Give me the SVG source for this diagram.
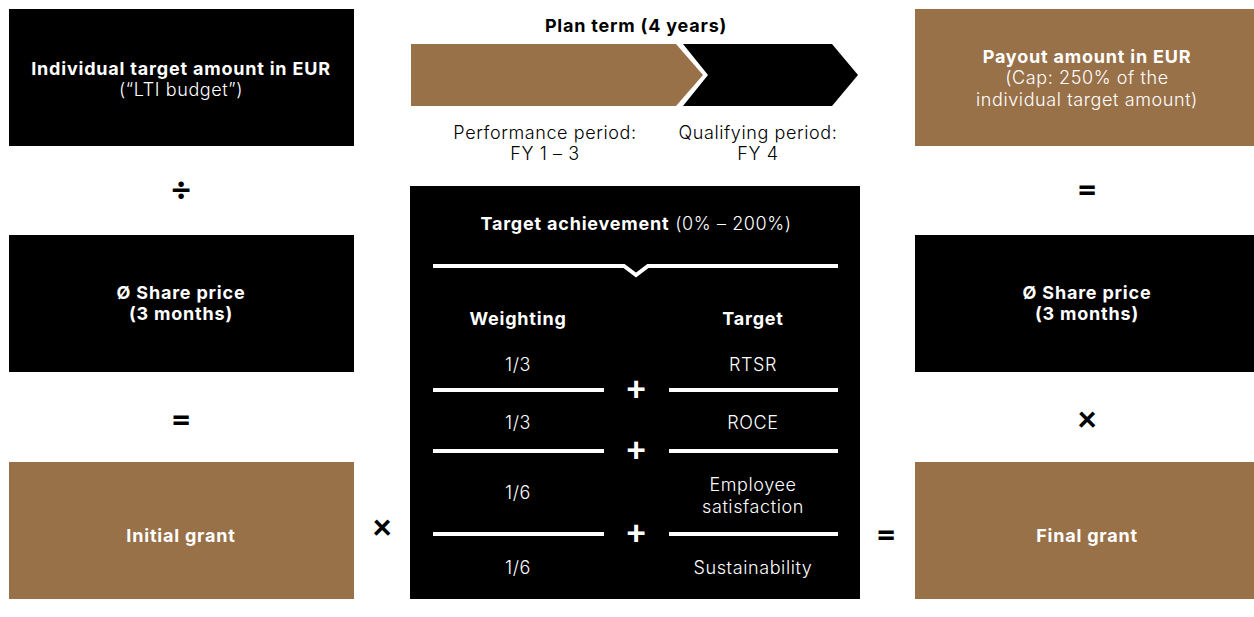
<svg xmlns="http://www.w3.org/2000/svg" width="1254" height="617" viewBox="0 0 1254 617">
<style>
.t{font-family:Inter,"Noto Sans",sans-serif;font-size:18px;text-anchor:middle}
.b{font-weight:700;letter-spacing:0.8px}
.l{font-weight:300;letter-spacing:0.6px}
.w{fill:#fff}
.k{fill:#000}
.op{font-family:Lato,"DejaVu Sans",sans-serif;font-weight:900;font-size:34px;text-anchor:middle;fill:#000}
.ln{stroke:#fff;stroke-width:4;fill:none}
</style>
<rect width="1254" height="617" fill="#fff"/>
<g id="n-individual"><rect x="9" y="9" width="345" height="137" fill="#000"/>
<text class="t b w" x="181" y="75">Individual target amount in EUR</text>
<text class="t l w" x="181" y="96">(“LTI budget”)</text></g>
<g id="n-share-left"><rect x="9" y="235" width="345" height="137" fill="#000"/>
<text class="t b w" x="181" y="299">Ø Share price</text>
<text class="t b w" x="181" y="320">(3 months)</text></g>
<g id="n-initial"><rect x="9" y="462" width="345" height="137" fill="#997149"/>
<text class="t b w" x="181" y="542">Initial grant</text></g>
<g id="n-payout"><rect x="915" y="9" width="339" height="137" fill="#997149"/>
<text class="t b w" x="1087" y="63">Payout amount in EUR</text>
<text class="t l w" x="1087" y="84">(Cap: 250% of the</text>
<text class="t l w" x="1087" y="106">individual target amount)</text></g>
<g id="n-share-right"><rect x="915" y="235" width="339" height="137" fill="#000"/>
<text class="t b w" x="1087" y="299">Ø Share price</text>
<text class="t b w" x="1087" y="320">(3 months)</text></g>
<g id="n-final"><rect x="915" y="462" width="339" height="137" fill="#997149"/>
<text class="t b w" x="1087" y="542">Final grant</text></g>
<g id="n-plan">
<text class="t b k" x="636" y="32">Plan term (4 years)</text>
<polygon points="411,44 676,44 703,75 676,106 411,106" fill="#997149"/>
<polygon points="683,44 832,44 858,75 832,106 683,106 708,75" fill="#000"/>
<text class="t l k" x="545" y="139">Performance period:</text>
<text class="t l k" x="545" y="160">FY 1 – 3</text>
<text class="t l k" x="758" y="139">Qualifying period:</text>
<text class="t l k" x="758" y="160">FY 4</text></g>
<g id="n-target"><rect x="410" y="186" width="450" height="413" fill="#000"/>
<text class="t w" x="636" y="230"><tspan class="b">Target achievement</tspan><tspan class="l"> (0% – 200%)</tspan></text>
<polyline class="ln" points="433,266 624,266 636,275 648,266 838,266"/>
<text class="t b w" x="518" y="325">Weighting</text>
<text class="t b w" x="753" y="325">Target</text>
<text class="t l w" x="518" y="371">1/3</text><text class="t l w" x="753" y="371">RTSR</text>
<text class="t l w" x="518" y="429">1/3</text><text class="t l w" x="753" y="429">ROCE</text>
<text class="t l w" x="518" y="499">1/6</text><text class="t l w" x="753" y="491">Employee</text><text class="t l w" x="753" y="513">satisfaction</text>
<text class="t l w" x="518" y="574">1/6</text><text class="t l w" x="753" y="574">Sustainability</text>
<line class="ln" x1="433" y1="390" x2="604" y2="390"/><line class="ln" x1="669" y1="390" x2="838" y2="390"/>
<line class="ln" x1="433" y1="451" x2="604" y2="451"/><line class="ln" x1="669" y1="451" x2="838" y2="451"/>
<line class="ln" x1="433" y1="534" x2="604" y2="534"/><line class="ln" x1="669" y1="534" x2="838" y2="534"/>
<text class="op" x="636" y="401" style="fill:#fff">+</text>
<text class="op" x="636" y="462" style="fill:#fff">+</text>
<text class="op" x="636" y="545" style="fill:#fff">+</text></g>
<g id="connectors">
<text class="op" x="181" y="202">÷</text>
<text class="op" x="1087" y="202">=</text>
<text class="op" x="181" y="432">=</text>
<text class="op" x="1087" y="431">×</text>
<text class="op" x="382" y="539">×</text>
<text class="op" x="886" y="547">=</text>
</g>
</svg>
